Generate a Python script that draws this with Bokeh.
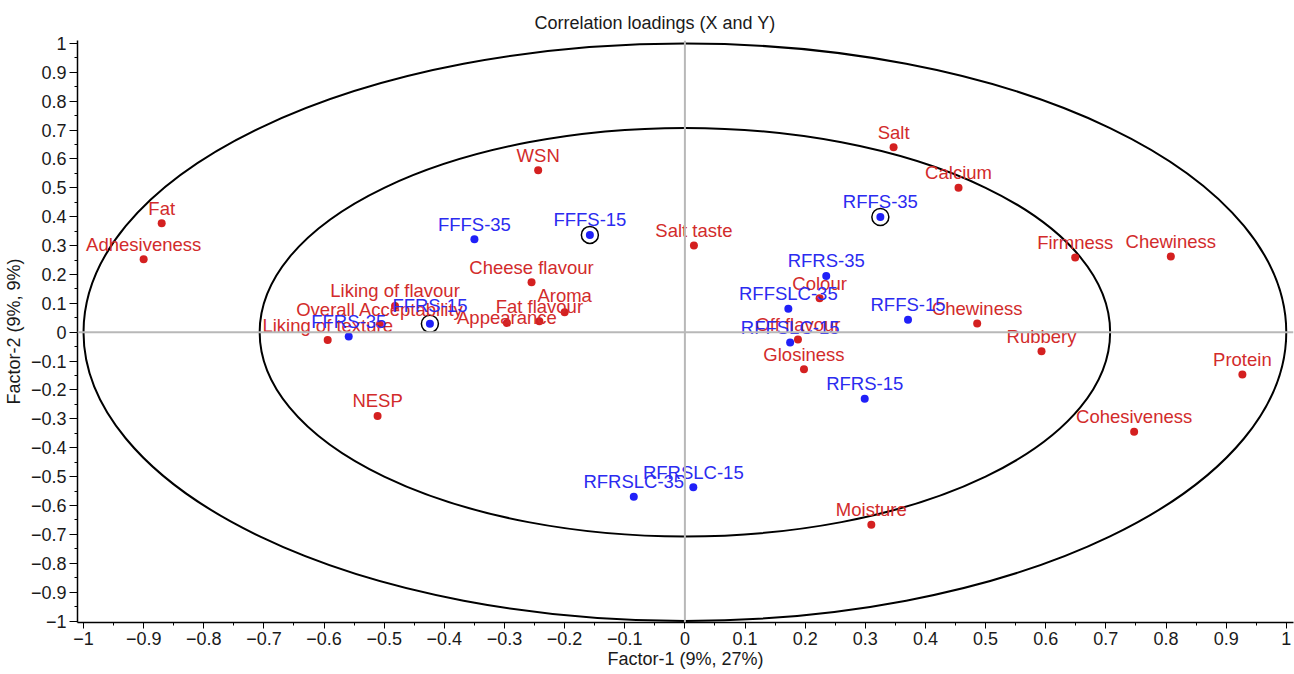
from bokeh.plotting import figure
from bokeh.models import (ColumnDataSource, Range1d, FixedTicker, CustomJSTickFormatter, Span)
from bokeh.core.properties import value
from bokeh.embed import file_html
from bokeh.resources import INLINE

# ---------------- data ----------------
y_names = ["Fat", "Adhesiveness", "WSN", "Salt", "Calcium", "Salt taste", "Cheese flavour",
           "Aroma", "Fat flavour", "Appearance", "Liking of flavour", "Overall Acceptability",
           "Liking of texture", "Firmness", "Chewiness", "Colour", "Chewiness", "Off flavour",
           "Rubbery", "Glosiness", "Protein", "Cohesiveness", "NESP", "Moisture"]
y_f1 = [-0.870, -0.900, -0.244, 0.347, 0.455, 0.015, -0.255,
        -0.200, -0.242, -0.296, -0.482, -0.507,
        -0.594, 0.649, 0.808, 0.224, 0.486, 0.188,
        0.593, 0.198, 0.927, 0.747, -0.511, 0.310]
y_f2 = [0.377, 0.253, 0.561, 0.640, 0.500, 0.300, 0.173,
        0.069, 0.038, 0.032, 0.091, 0.028,
        -0.027, 0.259, 0.262, 0.118, 0.030, -0.025,
        -0.066, -0.128, -0.146, -0.345, -0.290, -0.667]

x_names = ["FFFS-35", "FFFS-15", "FFRS-15", "FFRS-35", "RFFS-35", "RFRS-35",
           "RFFSLC-35", "RFFS-15", "RFFSLC-15", "RFRS-15", "RFRSLC-15", "RFRSLC-35"]
x_f1 = [-0.350, -0.158, -0.424, -0.559, 0.325, 0.235,
        0.172, 0.371, 0.175, 0.299, 0.014, -0.085]
x_f2 = [0.322, 0.337, 0.029, -0.015, 0.399, 0.195,
        0.081, 0.043, -0.036, -0.230, -0.537, -0.570]

highlighted = ["FFFS-15", "FFRS-15", "RFFS-35"]

circle_radii = [1.0, 0.7071]

ticks = [-1, -0.9, -0.8, -0.7, -0.6, -0.5, -0.4, -0.3, -0.2, -0.1, 0,
         0.1, 0.2, 0.3, 0.4, 0.5, 0.6, 0.7, 0.8, 0.9, 1]
minor = [-0.95, -0.85, -0.75, -0.65, -0.55, -0.45, -0.35, -0.25, -0.15, -0.05,
         0.05, 0.15, 0.25, 0.35, 0.45, 0.55, 0.65, 0.75, 0.85, 0.95]

# label placement (pixels above the point); default for all others
LABEL_GAP = 15
label_gap_override = {"Appearance": 5, "FFRS-15": 18, "Aroma": 17}

FONT = "Liberation Sans"
RED_PT, RED_TX = "#d42020", "#d22b2b"
BLUE_PT, BLUE_TX = "#2020f8", "#2b2bf0"
FS = "18px"
LFS = "18.5px"

p = figure(width=1294, height=674, x_range=Range1d(-1.01, 1.012), y_range=Range1d(-1.005, 1.01),
           output_backend="svg", toolbar_location=None,
           min_border_left=75, min_border_right=1, min_border_top=40, min_border_bottom=52)
p.grid.visible = False
p.outline_line_color = None
p.background_fill_color = "white"
p.border_fill_color = "white"

p.title.text = "Correlation loadings (X and Y)"
p.title.align = "left"
p.title.offset = 457
p.title.standoff = 16
p.title.text_font = FONT
p.title.text_font_size = FS
p.title.text_font_style = "normal"
p.title.text_color = "#1a1a1a"

fmt = CustomJSTickFormatter(code="""
if (Math.abs(tick) < 1e-9) return '0';
var s = Math.abs(tick).toFixed(1);
if (s.endsWith('.0')) s = s.slice(0, -2);
return (tick < 0 ? '\\u2212' : '') + s;
""")

for ax in (p.xaxis[0], p.yaxis[0]):
    ax.ticker = FixedTicker(ticks=ticks, minor_ticks=minor)
    ax.formatter = fmt
    ax.axis_line_width = 1.5
    ax.axis_line_color = "black"
    ax.major_tick_line_color = "black"
    ax.minor_tick_line_color = "black"
    ax.major_tick_in = 0
    ax.minor_tick_in = 0
    ax.minor_tick_out = 3
    ax.major_label_text_font = FONT
    ax.major_label_text_font_size = FS
    ax.major_label_text_color = "#1a1a1a"
    ax.axis_label_text_font = FONT
    ax.axis_label_text_font_size = FS
    ax.axis_label_text_font_style = "normal"
    ax.axis_label_text_color = "#1a1a1a"

p.xaxis.axis_label = "Factor-1 (9%, 27%)"
p.yaxis.axis_label = "Factor-2 (9%, 9%)"
p.xaxis.major_tick_out = 6
p.yaxis.major_tick_out = 8
p.xaxis.major_label_standoff = 3
p.yaxis.major_label_standoff = 3
p.xaxis.axis_label_standoff = 1
p.yaxis.axis_label_standoff = 4

p.add_layout(Span(location=0, dimension="height", line_color="#b8b8b8", line_width=2))
p.add_layout(Span(location=0, dimension="width", line_color="#b8b8b8", line_width=2))

p.ellipse(x=[0, 0], y=[0, 0], width=[2 * r for r in circle_radii], height=[2 * r for r in circle_radii],
          fill_color=None, line_color="black", line_width=2)

y_off = [-label_gap_override.get(n, LABEL_GAP) for n in y_names]
x_off = [-label_gap_override.get(n, LABEL_GAP) for n in x_names]
ysrc = ColumnDataSource(dict(x=y_f1, y=y_f2, name=y_names, dy=y_off))
xsrc = ColumnDataSource(dict(x=x_f1, y=x_f2, name=x_names, dy=x_off))
hx = [x_f1[x_names.index(n)] for n in highlighted]
hy = [x_f2[x_names.index(n)] for n in highlighted]

p.scatter("x", "y", source=ysrc, size=8, fill_color=RED_PT, line_color=None)
p.scatter("x", "y", source=xsrc, size=8, fill_color=BLUE_PT, line_color=None)
p.scatter(hx, hy, size=17, fill_color=None, line_color="black", line_width=1.5)

p.text("x", "y", text="name", source=ysrc, text_align="center", text_baseline="alphabetic",
       y_offset="dy", text_font=value(FONT), text_font_size=LFS, text_color=RED_TX)
p.text("x", "y", text="name", source=xsrc, text_align="center", text_baseline="alphabetic",
       y_offset="dy", text_font=value(FONT), text_font_size=LFS, text_color=BLUE_TX)

open("out.html", "w").write(file_html(p, INLINE))
